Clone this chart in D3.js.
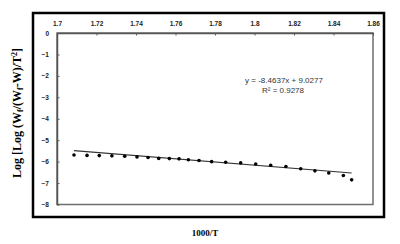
<!DOCTYPE html>
<html>
<head>
<meta charset="utf-8">
<script src="https://cdn.jsdelivr.net/npm/d3@7"></script>
<style>
  html, body { margin: 0; padding: 0; background: #fff; }
  svg { display: block; }
</style>
</head>
<body>
<svg id="chart" width="400" height="244"></svg>
<script>
// ---- data ----
const xValues = [1.7086, 1.7152, 1.7214, 1.7278, 1.7343, 1.7405, 1.7461, 1.7515, 1.7569, 1.7618,
                 1.7665, 1.7719, 1.7783, 1.7854, 1.7930, 1.8006, 1.8082, 1.8159, 1.8234, 1.8306,
                 1.8376, 1.8450, 1.8492];
const yValues = [-5.69, -5.71, -5.72, -5.73, -5.75, -5.78, -5.81, -5.85, -5.86, -5.87,
                 -5.91, -5.95, -6.00, -6.03, -6.06, -6.11, -6.17, -6.23, -6.33, -6.43,
                 -6.53, -6.65, -6.85];
const trendX = [1.7086, 1.8492];
const trendY = [-5.49, -6.53];
const xTicks = [1.7, 1.72, 1.74, 1.76, 1.78, 1.8, 1.82, 1.84, 1.86];
const xTickLabels = ["1.7", "1.72", "1.74", "1.76", "1.78", "1.8", "1.82", "1.84", "1.86"];
const yTicks = [0, -1, -2, -3, -4, -5, -6, -7, -8];
const equationLines = ["y = -8.4637x + 9.0277", "R² = 0.9278"];
const xTitle = "1000/T";

// ---- layout ----
const svg = d3.select("#chart");
const plot = { left: 57, right: 373, top: 33, bottom: 204.5 };

const x = d3.scaleLinear().domain([1.7, 1.86]).range([plot.left, plot.right]);
const y = d3.scaleLinear().domain([0, -8]).range([plot.top, plot.bottom]);

// outer frame
svg.append("rect")
  .attr("x", 33).attr("y", 13).attr("width", 351).attr("height", 204)
  .attr("fill", "none").attr("stroke", "#000").attr("stroke-width", 2.5);

// plot area frame
svg.append("rect")
  .attr("x", plot.left).attr("y", plot.top)
  .attr("width", plot.right - plot.left).attr("height", plot.bottom - plot.top)
  .attr("fill", "#fff").attr("stroke", "#6e6e6e").attr("stroke-width", 1.5);

// top x axis
const xAxis = d3.axisTop(x)
  .tickValues(xTicks)
  .tickFormat((d, i) => xTickLabels[i])
  .tickSizeInner(-2.5).tickSizeOuter(0).tickPadding(7);
const gx = svg.append("g").attr("transform", `translate(0,${plot.top})`).call(xAxis);
gx.select(".domain").attr("stroke", "#555").attr("stroke-width", 1.5);
gx.selectAll(".tick line").attr("stroke", "#555");
gx.selectAll(".tick text")
  .attr("font-family", "Liberation Sans, Arial, sans-serif")
  .attr("font-size", 6.5).attr("font-weight", "bold").attr("fill", "#222");

// left y axis
const yAxis = d3.axisLeft(y)
  .tickValues(yTicks)
  .tickFormat(d3.format("d"))
  .tickSizeInner(-2.5).tickSizeOuter(0).tickPadding(8);
const gy = svg.append("g").attr("transform", `translate(${plot.left},0)`).call(yAxis);
gy.select(".domain").attr("stroke", "#555").attr("stroke-width", 1.5);
gy.selectAll(".tick line").attr("stroke", "#555");
gy.selectAll(".tick text")
  .attr("font-family", "Liberation Sans, Arial, sans-serif")
  .attr("font-size", 6.5).attr("font-weight", "bold").attr("fill", "#222");

// trend line
svg.append("line")
  .attr("x1", x(trendX[0])).attr("y1", y(trendY[0]))
  .attr("x2", x(trendX[1])).attr("y2", y(trendY[1]))
  .attr("stroke", "#333").attr("stroke-width", 1.2);

// points
svg.append("g").selectAll("circle")
  .data(xValues.map((v, i) => [v, yValues[i]]))
  .join("circle")
  .attr("cx", d => x(d[0])).attr("cy", d => y(d[1]))
  .attr("r", 1.8).attr("fill", "#000");

// equation
const eq = svg.append("text")
  .attr("font-family", "Liberation Sans, Arial, sans-serif")
  .attr("font-size", 8).attr("fill", "#333").attr("text-anchor", "middle");
eq.append("tspan").attr("x", 284).attr("y", 83).text(equationLines[0]);
eq.append("tspan").attr("x", 283).attr("y", 93).text(equationLines[1]);

// x title
svg.append("text")
  .attr("x", 205).attr("y", 236)
  .attr("text-anchor", "middle")
  .attr("font-family", "Liberation Serif, Times New Roman, serif")
  .attr("font-size", 9).attr("font-weight", "bold")
  .text(xTitle);

// y title
const yt = svg.append("text")
  .attr("transform", "translate(21,113) rotate(-90)")
  .attr("text-anchor", "middle")
  .attr("font-family", "Liberation Serif, Times New Roman, serif")
  .attr("font-size", 12).attr("font-weight", "bold");
yt.append("tspan").text("Log [Log (W");
yt.append("tspan").attr("font-size", 8).attr("dy", 2).text("f");
yt.append("tspan").attr("dy", -2).text("/(W");
yt.append("tspan").attr("font-size", 8).attr("dy", 2).text("f");
yt.append("tspan").attr("dy", -2).text("-W)/T");
yt.append("tspan").attr("font-size", 8).attr("dy", -4).text("2");
yt.append("tspan").attr("dy", 4).text("]");
</script>
</body>
</html>
